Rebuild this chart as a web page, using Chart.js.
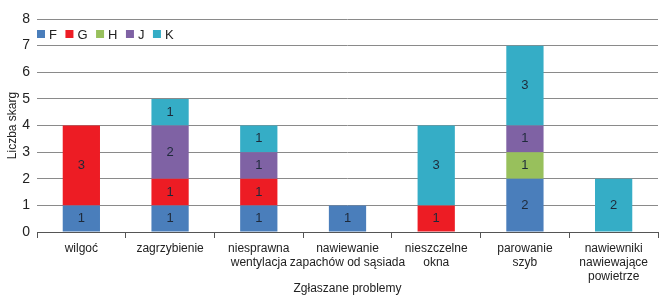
<!DOCTYPE html>
<html>
<head>
<meta charset="utf-8">
<script src="https://cdn.jsdelivr.net/npm/chart.js@4"></script>
<style>
  html, body { margin: 0; padding: 0; background: #fff; }
  #wrap { width: 670px; height: 301px; position: relative; }
</style>
</head>
<body>
<div id="wrap"><canvas id="c"></canvas></div>
<script>
const categories = [
  "wilgoć",
  "zagrzybienie",
  ["niesprawna", "wentylacja"],
  ["nawiewanie", "zapachów od sąsiada"],
  ["nieszczelne", "okna"],
  ["parowanie", "szyb"],
  ["nawiewniki", "nawiewające", "powietrze"]
];
const seriesNames = ["F", "G", "H", "J", "K"];
const valuesF = [1, 1, 1, 1, null, 2, null];
const valuesG = [3, 1, 1, null, 1, null, null];
const valuesH = [null, null, null, null, null, 1, null];
const valuesJ = [null, 2, 1, null, null, 1, null];
const valuesK = [null, 1, 1, null, 3, 3, 2];
const yTicks = [0, 1, 2, 3, 4, 5, 6, 7, 8];

const colors = ["#4a7ebb", "#ed1c24", "#98c05c", "#7f62a4", "#35adc6"];
const FONT = "'Liberation Sans', Arial, sans-serif";

// numbers inside segments
const segmentLabels = {
  id: "segmentLabels",
  afterDatasetsDraw(chart) {
    const ctx = chart.ctx;
    ctx.save();
    ctx.font = "13px " + FONT;
    ctx.fillStyle = "#1e2a3a";
    ctx.textAlign = "center";
    ctx.textBaseline = "middle";
    chart.data.datasets.forEach((ds, i) => {
      chart.getDatasetMeta(i).data.forEach((bar, j) => {
        const v = ds.data[j];
        if (!v) return;
        ctx.fillText(String(v), bar.x, (bar.y + bar.base) / 2);
      });
    });
    ctx.restore();
  }
};

// legend drawn over the plot, top-left
const innerLegend = {
  id: "innerLegend",
  afterDraw(chart) {
    const ctx = chart.ctx;
    ctx.save();
    ctx.font = "13px " + FONT;
    ctx.textBaseline = "middle";
    let x = chart.chartArea.left;
    const y = 34;
    seriesNames.forEach((name, i) => {
      ctx.fillStyle = colors[i];
      ctx.fillRect(x, y - 4, 8, 8);
      ctx.fillStyle = "#222";
      ctx.fillText(name, x + 12, y + 1);
      x += 12 + ctx.measureText(name).width + 8.5;
    });
    ctx.restore();
  }
};

const seriesData = [valuesF, valuesG, valuesH, valuesJ, valuesK];

new Chart(document.getElementById("c"), {
  type: "bar",
  data: {
    labels: categories,
    datasets: seriesNames.map((name, i) => ({
      label: name,
      data: seriesData[i],
      backgroundColor: colors[i],
      categoryPercentage: 1,
      barPercentage: 0.42
    }))
  },
  options: {
    responsive: true,
    maintainAspectRatio: false,
    animation: false,
    layout: { padding: { top: 19, right: 12, left: 0, bottom: 0 } },
    plugins: {
      legend: { display: false },
      tooltip: { enabled: false }
    },
    scales: {
      x: {
        stacked: true,
        offset: true,
        grid: {
          drawOnChartArea: false,
          color: "#555",
          tickLength: 6,
          offset: true
        },
        border: { color: "#555", width: 1 },
        ticks: {
          color: "#222",
          font: { family: FONT, size: 12, lineHeight: 1.2 },
          padding: 3,
          maxRotation: 0,
          autoSkip: false
        },
        title: {
          display: true,
          text: "Zgłaszane problemy",
          color: "#222",
          font: { family: FONT, size: 12 },
          padding: { top: 0, bottom: 5 }
        },
        afterFit(s) { s.height = 69; }
      },
      y: {
        stacked: true,
        min: 0,
        max: 8,
        afterBuildTicks(s) { s.ticks = yTicks.map(v => ({ value: v })); },
        grid: {
          color: "#8a8a8a",
          lineWidth: 1,
          drawTicks: false
        },
        border: { display: false },
        ticks: {
          color: "#222",
          font: { family: FONT, size: 14 },
          padding: 7
        },
        title: {
          display: true,
          text: "Liczba skarg",
          color: "#222",
          font: { family: FONT, size: 12 },
          padding: { top: 5, bottom: 0 }
        },
        afterFit(s) { s.width = 37; }
      }
    }
  },
  plugins: [segmentLabels, innerLegend]
});
</script>
</body>
</html>
